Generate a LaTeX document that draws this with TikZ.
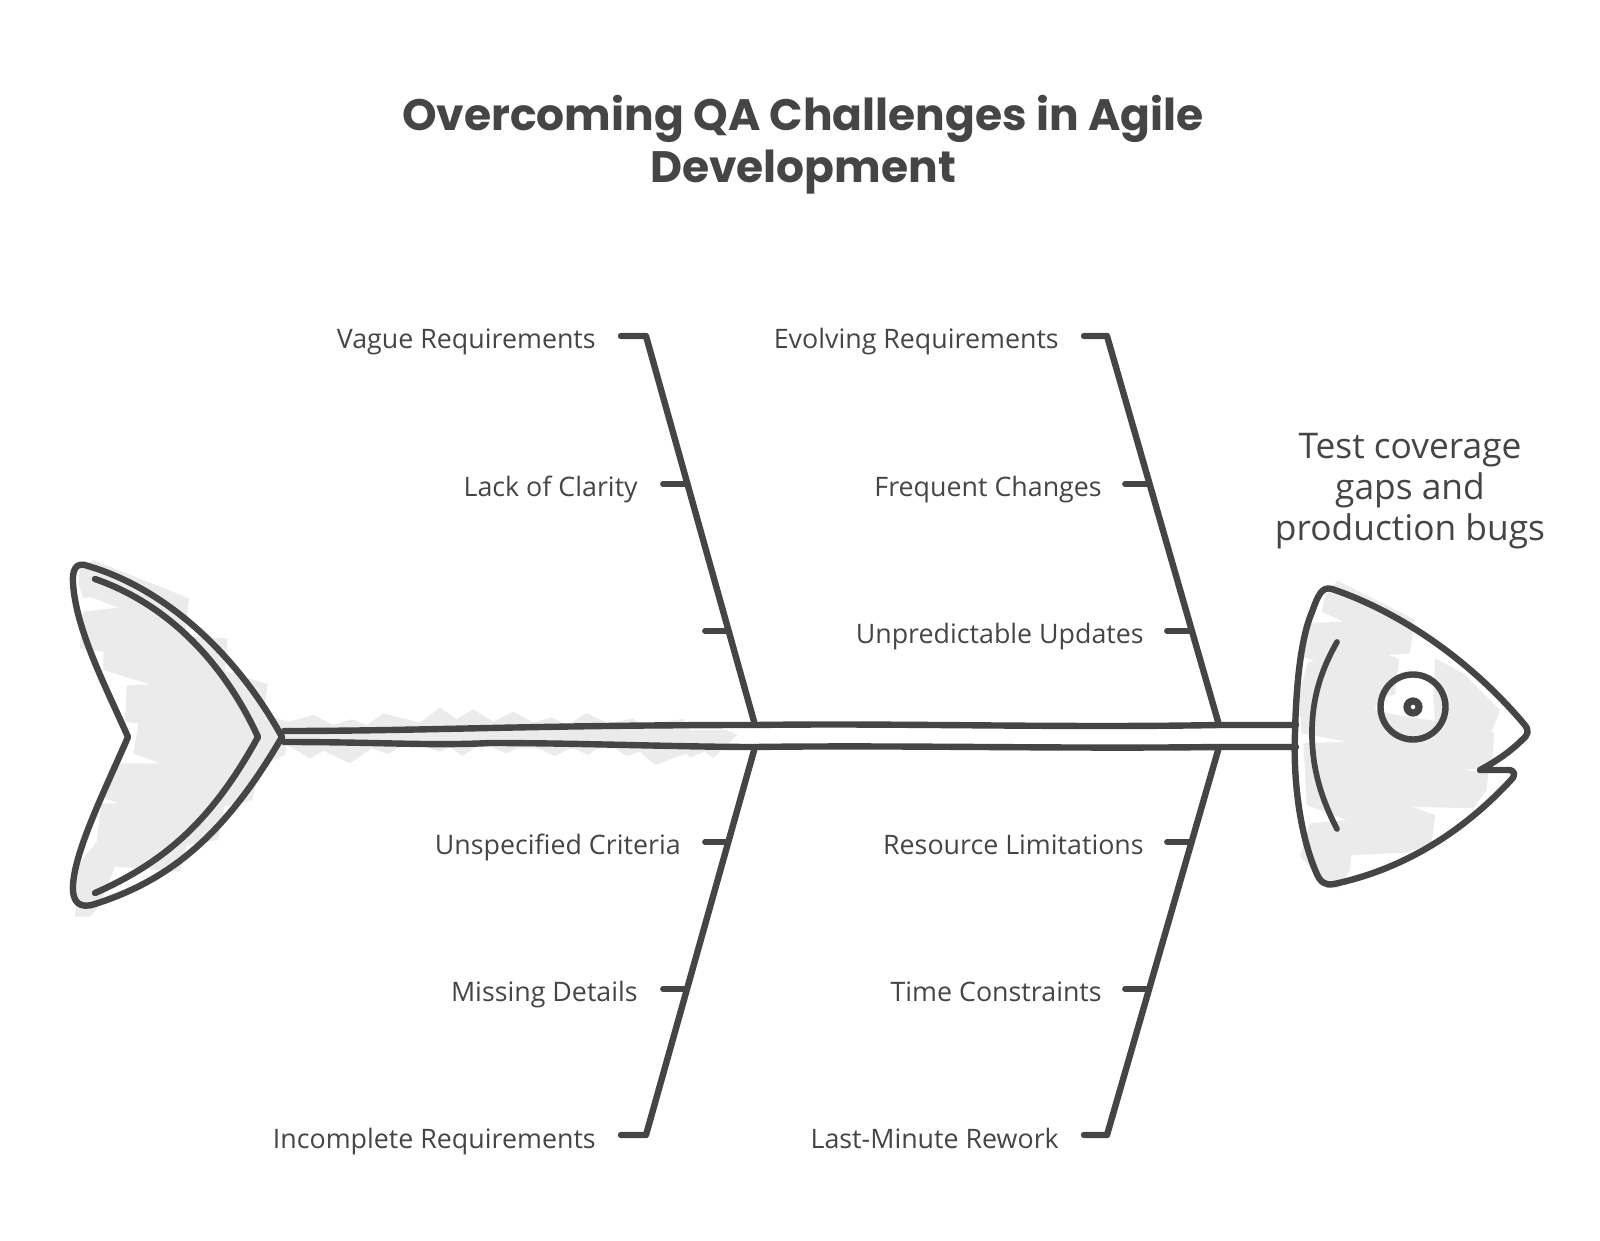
\documentclass[tikz,border=0pt]{standalone}
\usepackage{fontspec}
\setmainfont{Open Sans}
\newfontfamily\titlefont{Poppins}[UprightFont=* Bold]
\definecolor{ink}{HTML}{454545}
\definecolor{wash}{HTML}{EBEBEB}
\tikzset{
  wline/.style={draw=ink,line width=4.8pt,line cap=round,line join=round},
  thinl/.style={draw=ink,line width=4.3pt,line cap=round,line join=round},
  lbl/.style={anchor=base east,inner sep=0pt,text=ink,font=\fontsize{20.1}{24}\selectfont},
  ttl/.style={align=center,inner sep=0pt,text=ink,font=\titlefont\fontsize{33}{39}\selectfont},
  eff/.style={align=center,inner sep=0pt,text=ink,font=\fontsize{26.5}{31}\selectfont},
}
\begin{document}
\begin{tikzpicture}[x=0.75pt,y=-0.75pt]
\useasboundingbox (0,0) rectangle (1600,1241);
% washes
\begin{scope}[shift={(40,540)},x=0.25pt,y=-0.25pt]
\fill[wash] (120,85)--(160,60)--(447,175)--(435,290)--(563,295)--(555,393)--(683,432)--(670,525)--(745,545)--(735,645)--(660,680)--(637,780)--(553,800)--(535,900)--(440,915)--(420,995)--(225,980)--(180,1095)--(150,1130)--(105,1130)--(110,1080)--(95,1000)--(170,905)--(185,790)--(235,790)--(195,775)--(215,670)--(360,670)--(280,640)--(295,550)--(255,545)--(260,437)--(330,433)--(190,390)--(190,335)--(120,325)--(128,215)--(235,203)--(150,170)--(130,175)--(115,130)--cycle;
\end{scope}
\begin{scope}[shift={(300,620)},x=0.25pt,y=-0.25pt]
\fill[wash] (-45,370)--(-36,306)--(40,285)--(100,315)--(155,298)--(200,315)--(250,280)--(360,308)--(420,263)--(470,297)--(520,268)--(580,305)--(640,275)--(700,308)--(755,292)--(800,315)--(860,280)--(925,310)--(1000,295)--(1020,315)--(1150,297)--(1170,330)--(1280,330)--(1312,345)--(1270,385)--(1240,415)--(1215,395)--(1170,412)--(1160,400)--(1065,435)--(1020,395)--(980,408)--(945,385)--(890,385)--(865,405)--(820,385)--(800,390)--(765,408)--(715,385)--(650,385)--(620,400)--(570,380)--(530,380)--(487,408)--(450,380)--(420,395)--(370,380)--(300,380)--(265,402)--(215,385)--(150,430)--(70,392)--(30,416)--cycle;
\end{scope}
\begin{scope}[shift={(1260,560)},x=0.25pt,y=-0.25pt]
\fill[wash] (232,62)--(463,178)--(450,280)--(385,285)--(418,298)--(405,405)--(355,410)--(345,450)--(380,460)--(525,483)--(520,415)--(525,295)--(610,340)--(720,450)--(695,515)--(703,520)--(695,625)--(610,628)--(685,640)--(680,690)--(640,745)--(455,740)--(525,765)--(515,850)--(440,878)--(275,885)--(270,930)--(235,985)--(205,980)--(120,890)--(150,790)--(260,780)--(140,735)--(130,550)--(260,545)--(125,520)--(115,400)--(145,305)--(165,305)--(130,290)--(130,190)--(250,185)--(185,155)--(195,110)--cycle;
\end{scope}
% junction coordinates
\coordinate (tj) at (282,737);
\coordinate (tjU) at (284,731); \coordinate (tjL) at (284,742);
\coordinate (hj) at (1296,736);
\coordinate (ul) at (755,725); \coordinate (ll) at (755,747);
\coordinate (ur) at (1219,725); \coordinate (lr) at (1219,747);
% bones
\coordinate (ulE) at (646,336); \coordinate (ulS) at (621,336);
\coordinate (urE) at (1107,336); \coordinate (urS) at (1084,336);
\coordinate (llE) at (646,1135); \coordinate (llS) at (621,1135);
\coordinate (lrE) at (1107,1135); \coordinate (lrS) at (1084,1135);
\draw[wline] (ul)--(ulE)--(ulS);
\draw[wline] (ur)--(urE)--(urS);
\draw[wline] (ll)--(llE)--(llS);
\draw[wline] (lr)--(lrE)--(lrS);
% stubs
\foreach \n/\xa/\xb/\yy in {a/663/687/484,b/705/728/631,c/705/728/842,d/663/687/989,e/1125/1148/484,f/1167/1189/631,g/1167/1189/842,h/1125/1148/989}{
  \coordinate (s\n A) at (\xa,\yy); \coordinate (s\n B) at (\xb,\yy);
  \draw[thinl] (s\n A)--(s\n B);
}
% spine
\draw[wline] (tjU) .. controls (420,731) and (540,725) .. (ul) .. controls (900,723) and (1060,728) .. (ur) -- (hj|-ur);
\draw[wline] (tjL) .. controls (380,742) and (430,746) .. (490,743) .. controls (580,743) and (680,747) .. (ll) .. controls (900,745) and (1060,749) .. (lr) -- (hj|-lr);
% tail
\coordinate (tn) at (128,737);
\draw[wline] (tj) .. controls (240,660) and (170,590) .. (88,566) .. controls (76,561) and (72,570) .. (73,583) .. controls (76,630) and (105,685) .. (tn) .. controls (105,790) and (75,850) .. (73,885) .. controls (72,903) and (80,909) .. (95,904) .. controls (170,880) and (225,835) .. (tj);
\draw[wline] (95,579) .. controls (170,605) and (225,665) .. (258,737) .. controls (215,815) and (170,860) .. (95,893);
% head
\coordinate (eyeC) at (1413,707);
\draw[wline] (1332,589) .. controls (1400,612) and (1470,660) .. (1524,724) .. controls (1530,731) and (1528,735) .. (1522,740) .. controls (1510,752) and (1495,762) .. (1480,770) -- (1508,770) .. controls (1515,770) and (1516,775) .. (1511,780) .. controls (1460,835) and (1400,870) .. (1334,884) .. controls (1325,886) and (1320,882) .. (1316,872) .. controls (1300,835) and (1293,780) .. (1295,733) .. controls (1296,690) and (1300,640) .. (1312,612) .. controls (1318,595) and (1322,586) .. (1332,589) -- cycle;
\draw[thinl] (1337,642) .. controls (1320,672) and (1312,700) .. (1312,733) .. controls (1312,770) and (1322,800) .. (1337,829);
\draw[wline] (eyeC) circle (32.5);
\draw[draw=ink,line width=5.4pt] (eyeC) circle (6);
% labels
\node[ttl] (title) at (803,145) {Overcoming QA Challenges in Agile\\Development};
\node[eff] (effect) at (1410,491) {Test coverage\\gaps and\\production bugs};
\node[lbl] (n1) at (596,349) {Vague Requirements};
\node[lbl] (n2) at (638,496) {Lack of Clarity};
\node[lbl] (n3) at (681,854) {Unspecified Criteria};
\node[lbl] (n4) at (638,1001) {Missing Details};
\node[lbl] (n5) at (596,1148) {Incomplete Requirements};
\node[lbl] (n6) at (1059,349) {Evolving Requirements};
\node[lbl] (n7) at (1102,496) {Frequent Changes};
\node[lbl] (n8) at (1144,643) {Unpredictable Updates};
\node[lbl] (n9) at (1144,854) {Resource Limitations};
\node[lbl] (n10) at (1102,1001) {Time Constraints};
\node[lbl] (n11) at (1059,1148) {Last-Minute Rework};
\end{tikzpicture}
\end{document}
